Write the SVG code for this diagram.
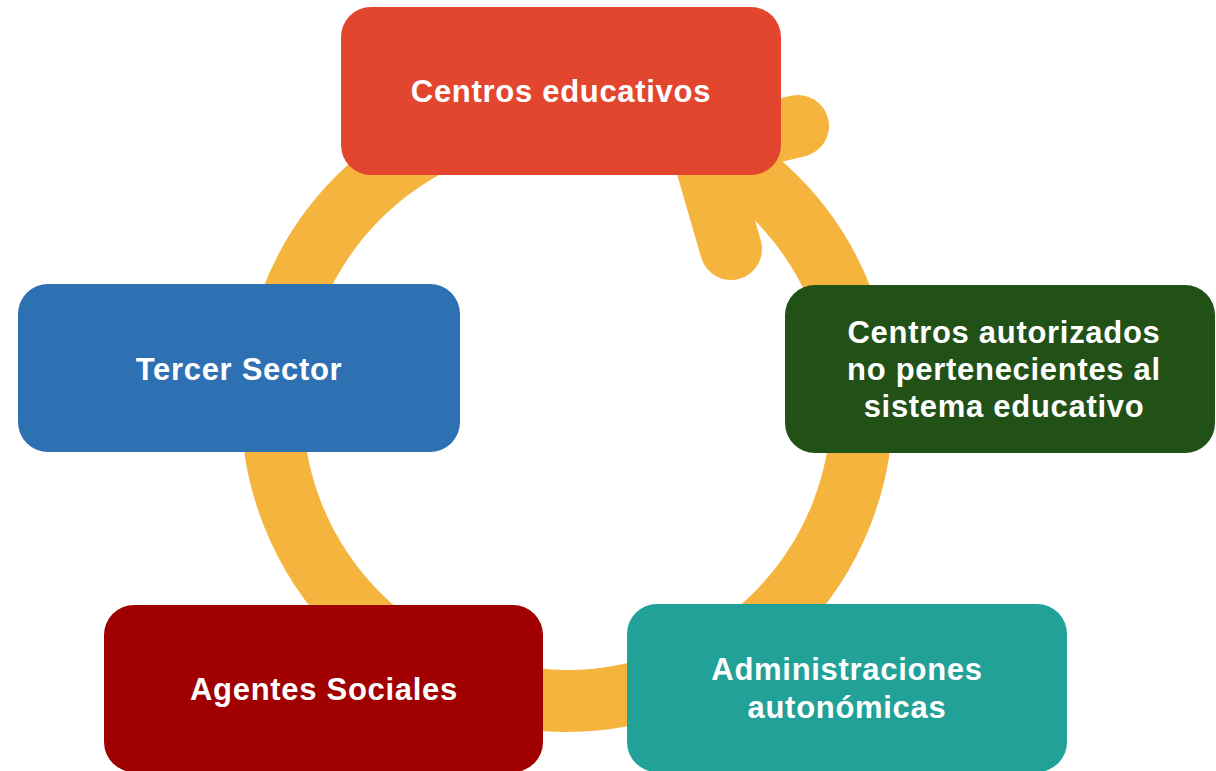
<svg xmlns="http://www.w3.org/2000/svg" width="1216" height="771" viewBox="0 0 1216 771">
  <style>
    .lbl { font-family: "Liberation Sans", Arial, sans-serif; font-weight: bold; font-size: 31px; letter-spacing: 0.7px; fill: #ffffff; text-anchor: middle; }
    .ring { fill: none; stroke: #F5B43D; stroke-width: 62; stroke-linecap: round; stroke-linejoin: round; }
  </style>
  <rect width="1216" height="771" fill="#ffffff"/>
  <g id="connectors">
    <circle class="ring" cx="567" cy="406" r="295"/>
    <polyline class="ring" points="798,126 702,149 731,249"/>
  </g>
  <g id="node-centros-educativos">
    <rect x="341" y="7" width="440" height="168" rx="30" fill="#E3462F"/>
    <text class="lbl" x="561" y="102">Centros educativos</text>
  </g>
  <g id="node-tercer-sector">
    <rect x="18" y="284" width="442" height="168" rx="30" fill="#2E71B3"/>
    <text class="lbl" x="239" y="380">Tercer Sector</text>
  </g>
  <g id="node-centros-autorizados">
    <rect x="785" y="285" width="430" height="168" rx="30" fill="#215117"/>
    <text class="lbl" x="1004" y="343">Centros autorizados</text>
    <text class="lbl" x="1004" y="380">no pertenecientes al</text>
    <text class="lbl" x="1004" y="417">sistema educativo</text>
  </g>
  <g id="node-agentes-sociales">
    <rect x="104" y="605" width="439" height="167" rx="30" fill="#A10000"/>
    <text class="lbl" x="324" y="700">Agentes Sociales</text>
  </g>
  <g id="node-administraciones">
    <rect x="627" y="604" width="440" height="168" rx="30" fill="#22A198"/>
    <text class="lbl" x="847" y="680">Administraciones</text>
    <text class="lbl" x="847" y="718">autonómicas</text>
  </g>
</svg>
